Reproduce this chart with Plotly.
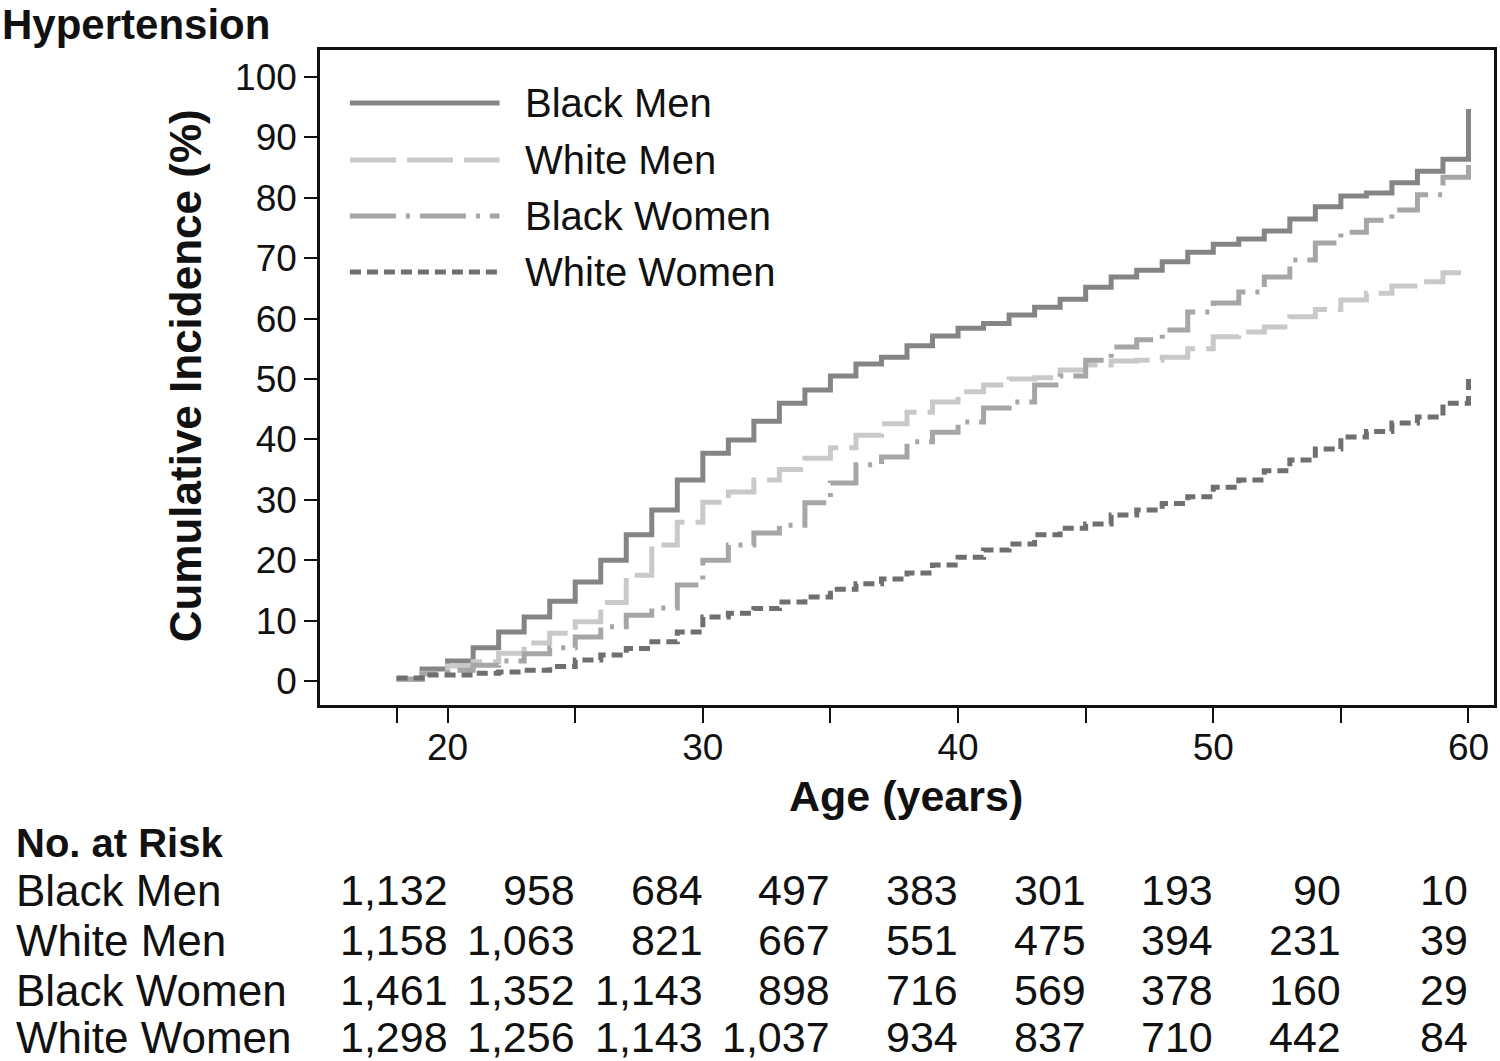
import plotly.graph_objects as go

ages = list(range(18, 61))

black_men = [0.3, 2.0, 3.3, 5.5, 8.1, 10.6, 13.2, 16.4, 20.0, 24.2, 28.3, 33.3, 37.7, 39.9, 43.0,
             46.0, 48.2, 50.5, 52.5, 53.6, 55.5, 57.1, 58.4, 59.2, 60.6, 61.9, 63.2, 65.2, 66.9,
             68.0, 69.4, 71.0, 72.3, 73.2, 74.5, 76.5, 78.5, 80.3, 80.8, 82.5, 84.4, 86.4, 94.7]
white_men = [0.3, 1.3, 2.5, 3.2, 4.6, 6.3, 7.9, 9.8, 13.0, 17.5, 22.5, 26.3, 29.6, 31.3, 33.3,
             35.0, 36.9, 38.6, 40.7, 42.6, 44.5, 46.2, 47.9, 49.0, 50.0, 50.2, 51.5, 52.3, 53.0,
             53.1, 53.6, 55.0, 57.0, 57.8, 58.6, 60.3, 61.5, 63.1, 64.2, 65.4, 66.1, 67.6, 68.0]
black_women = [0.3, 1.2, 1.8, 2.6, 3.3, 4.5, 5.5, 7.3, 9.0, 10.9, 12.1, 15.9, 20.0, 22.5, 24.5,
               25.8, 29.5, 32.8, 35.8, 37.1, 39.6, 41.2, 42.9, 45.2, 46.2, 49.0, 50.5, 53.1, 55.3,
               56.5, 58.1, 61.1, 62.6, 64.4, 66.9, 69.7, 72.5, 74.3, 76.3, 78.0, 80.5, 83.4, 86.4]
white_women = [0.5, 1.0, 1.0, 1.3, 1.5, 1.8, 2.4, 3.5, 4.3, 5.4, 6.5, 8.1, 10.6, 11.2, 12.0,
               13.1, 13.9, 15.2, 16.1, 16.9, 17.9, 19.2, 20.5, 21.7, 22.7, 24.2, 25.3, 26.0, 27.5,
               28.3, 29.4, 30.5, 32.1, 33.3, 34.8, 36.6, 38.4, 40.4, 41.3, 42.7, 43.7, 46.0, 50.2]

group_names = ["Black Men", "White Men", "Black Women", "White Women"]
risk_ages = [20, 25, 30, 35, 40, 45, 50, 55, 60]
risk_black_men = ["1,132", "958", "684", "497", "383", "301", "193", "90", "10"]
risk_white_men = ["1,158", "1,063", "821", "667", "551", "475", "394", "231", "39"]
risk_black_women = ["1,461", "1,352", "1,143", "898", "716", "569", "378", "160", "29"]
risk_white_women = ["1,298", "1,256", "1,143", "1,037", "934", "837", "710", "442", "84"]

x_tickvals = [18, 20, 25, 30, 35, 40, 45, 50, 55, 60]
x_ticktext = ["", "20", "", "30", "", "40", "", "50", "", "60"]
y_tickvals = [0, 10, 20, 30, 40, 50, 60, 70, 80, 90, 100]

series = [black_men, white_men, black_women, white_women]
colors = ["#858585", "#c9c9c9", "#a6a6a6", "#6f6f6f"]
dashes = ["solid", "46px,11px", "46px,10px,4px,10px", "11px,6px"]
risks = [risk_black_men, risk_white_men, risk_black_women, risk_white_women]

FONT = "Liberation Sans, Arial, sans-serif"
W, H = 1500, 1061
L, R, T, B = 320, 3, 50, 356
pw = W - L - R
ph = H - T - B


def px_to_paper_x(px):
    return (px - L) / pw


def px_to_paper_y(py):
    return (H - B - py) / ph


fig = go.Figure()
for name, vals, col, dash in zip(group_names, series, colors, dashes):
    fig.add_trace(go.Scatter(x=ages, y=vals, mode="lines", name=name,
                             line=dict(color=col, width=5, dash=dash, shape="hv"),
                             showlegend=False))

annotations = []
shapes = []

# custom legend
leg_rows = [103, 160, 216, 272]
for name, col, dash, py in zip(group_names, colors, dashes, leg_rows):
    yy = px_to_paper_y(py)
    shapes.append(dict(type="line", xref="paper", yref="paper",
                       x0=px_to_paper_x(350), x1=px_to_paper_x(500), y0=yy, y1=yy,
                       line=dict(color=col, width=5, dash=dash)))
    annotations.append(dict(text=name, xref="paper", yref="paper", x=px_to_paper_x(524), y=yy,
                            xanchor="left", yanchor="middle", showarrow=False,
                            font=dict(family=FONT, size=40, color="#111")))

# axis titles
annotations.append(dict(text="<b>Cumulative Incidence (%)</b>", xref="paper", yref="paper",
                        x=px_to_paper_x(185), y=px_to_paper_y(376), textangle=-90,
                        xanchor="center", yanchor="middle", showarrow=False,
                        font=dict(family=FONT, size=44, color="#111")))
annotations.append(dict(text="<b>Age (years)</b>", xref="paper", yref="paper",
                        x=px_to_paper_x(907), y=px_to_paper_y(796), xanchor="center",
                        yanchor="middle", showarrow=False,
                        font=dict(family=FONT, size=43, color="#111")))

# risk table
annotations.append(dict(text="<b>No. at Risk</b>", xref="paper", yref="paper",
                        x=px_to_paper_x(13), y=px_to_paper_y(843), xanchor="left",
                        yanchor="middle", showarrow=False,
                        font=dict(family=FONT, size=40, color="#111")))
row_y = [890, 940, 990, 1037]
for name, rk, py in zip(group_names, risks, row_y):
    yy = px_to_paper_y(py)
    annotations.append(dict(text=name, xref="paper", yref="paper", x=px_to_paper_x(13), y=yy,
                            xanchor="left", yanchor="middle", showarrow=False,
                            font=dict(family=FONT, size=44, color="#111")))
    for a, v in zip(risk_ages, rk):
        annotations.append(dict(text=v, xref="x", yref="paper", x=a, y=yy,
                                xanchor="right", yanchor="middle", showarrow=False,
                                xshift=2,
                                font=dict(family=FONT, size=43, color="#111")))

fig.update_layout(
    width=W, height=H,
    margin=dict(l=L, r=R, t=T, b=B, pad=0),
    paper_bgcolor="white", plot_bgcolor="white",
    title=dict(text="<b>Hypertension</b>", x=2 / W, xref="container", xanchor="left",
               y=1 - 24 / H, yref="container", yanchor="middle", pad=dict(l=0, r=0, t=0, b=0),
               font=dict(family=FONT, size=42, color="#111")),
    annotations=annotations,
    shapes=shapes,
    showlegend=False,
)
fig.update_xaxes(range=[15, 61], tickvals=x_tickvals, ticktext=x_ticktext,
                 ticks="outside", ticklen=15, tickwidth=2, tickcolor="#111",
                 ticklabelstandoff=-7,
                 showline=True, linecolor="#111", linewidth=2.5, mirror=True,
                 showgrid=False, zeroline=False,
                 tickfont=dict(family=FONT, size=37, color="#111"))
fig.update_yaxes(range=[-3.97, 104.47], tickvals=y_tickvals,
                 ticks="outside", ticklen=13, tickwidth=2, tickcolor="#111",
                 showline=True, linecolor="#111", linewidth=2.5, mirror=True,
                 showgrid=False, zeroline=False,
                 tickfont=dict(family=FONT, size=37, color="#111"))

fig.write_html("out.html", config={"displayModeBar": False},
               post_script="document.body.style.margin='0';document.body.style.overflow='hidden';")
